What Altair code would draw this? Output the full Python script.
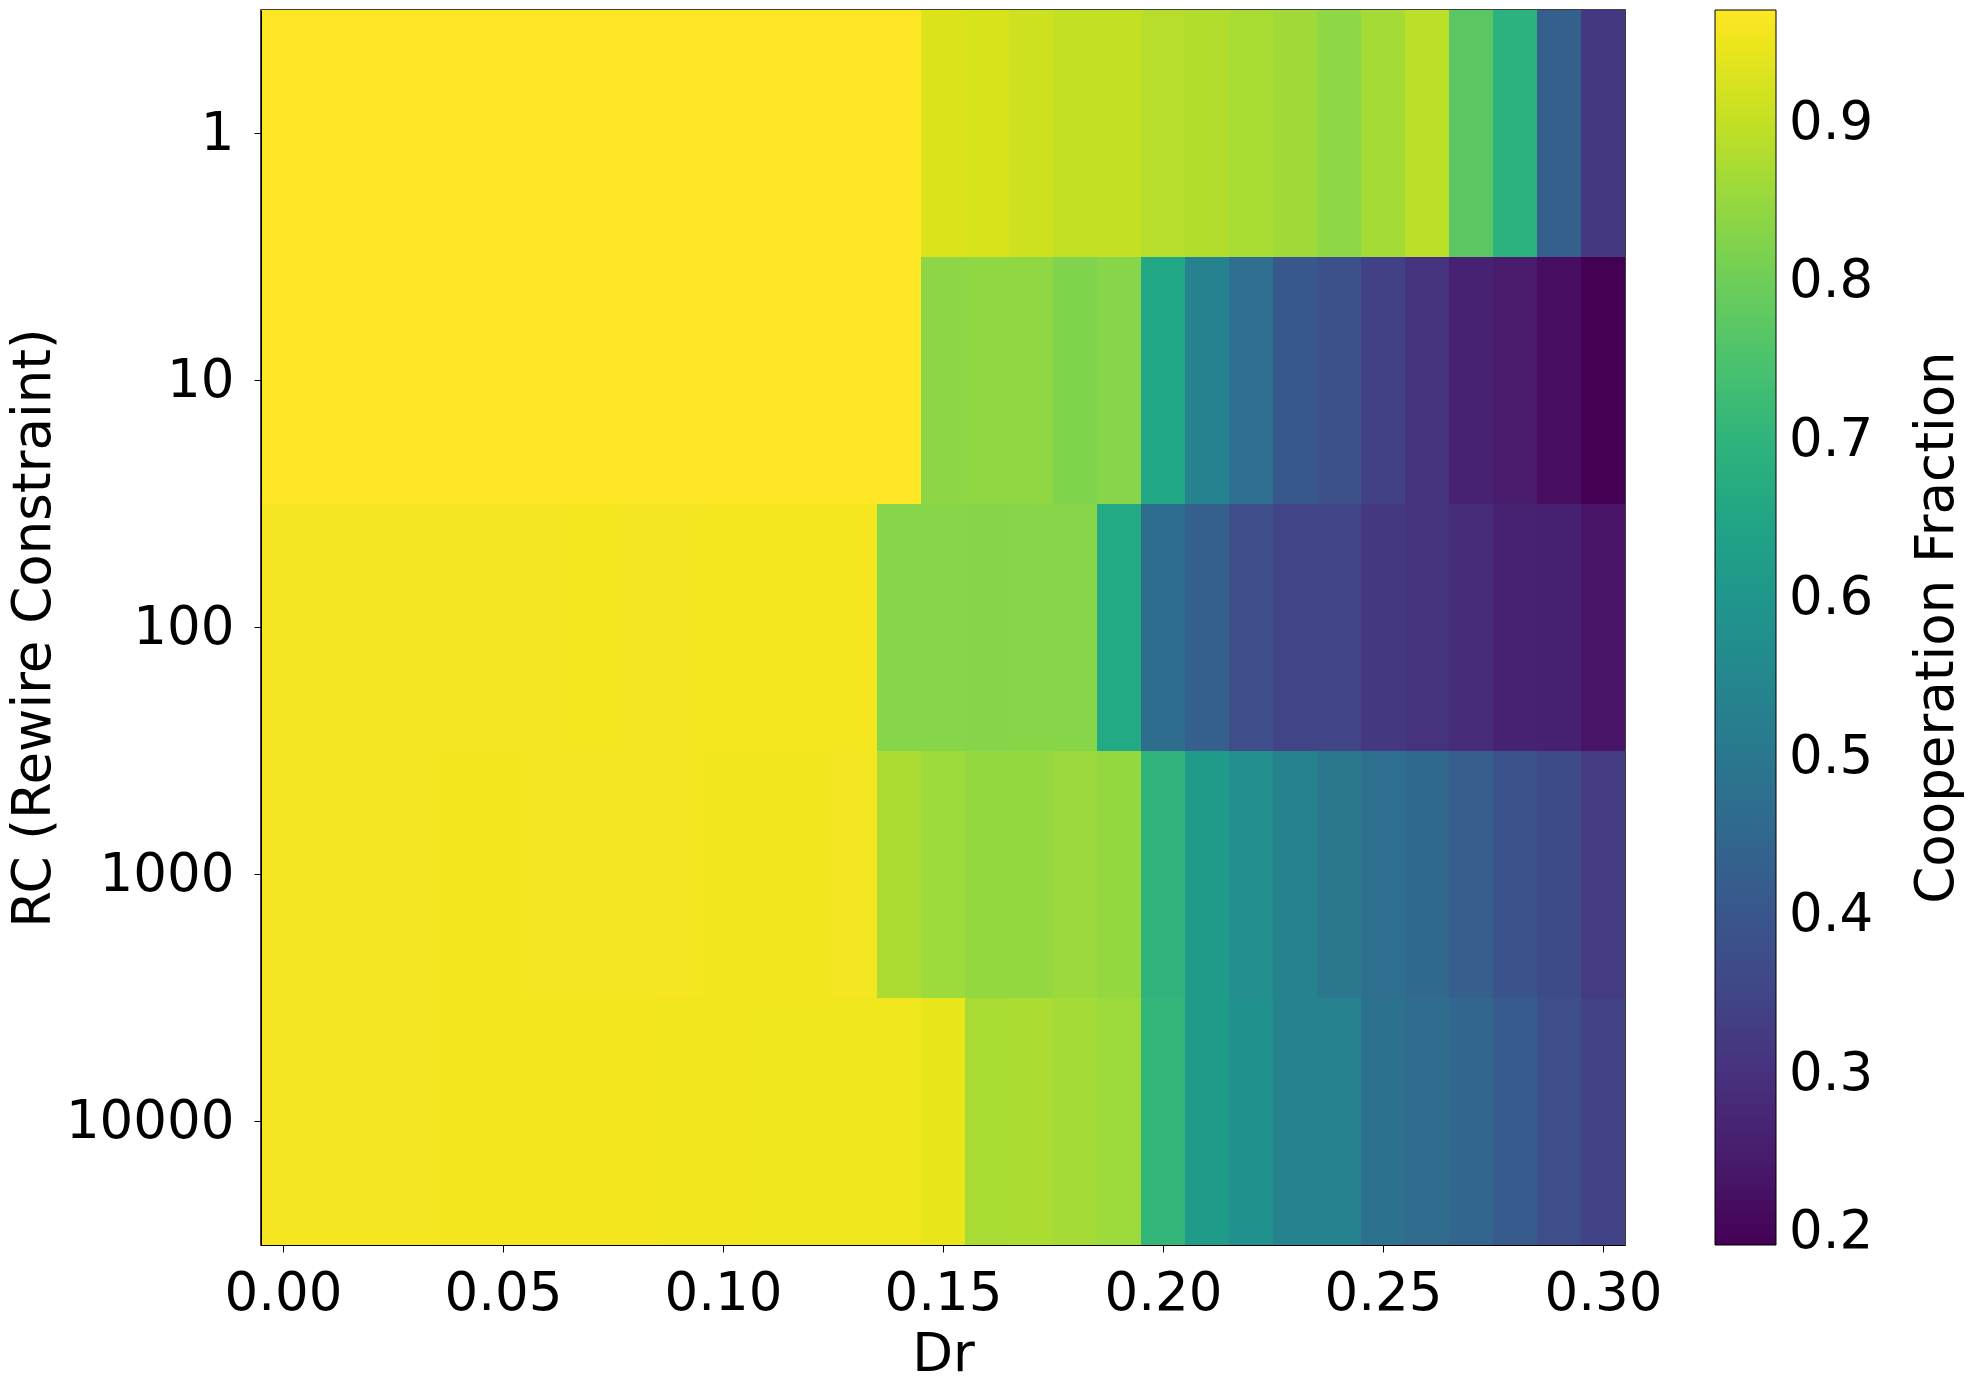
import altair as alt
import pandas as pd

dr_values = [round(i * 0.01, 2) for i in range(31)]
rc_labels = ["1", "10", "100", "1000", "10000"]

row_rc1 = [0.971] * 15 + [0.932, 0.926, 0.913, 0.902, 0.902, 0.886, 0.882, 0.872,
                          0.863, 0.840, 0.866, 0.893, 0.772, 0.691, 0.426, 0.318]
row_rc10 = [0.971] * 15 + [0.839, 0.842, 0.842, 0.823, 0.831, 0.659, 0.535, 0.472,
                           0.406, 0.379, 0.340, 0.305, 0.262, 0.247, 0.215, 0.192]
row_rc100 = [0.962, 0.962, 0.961, 0.961, 0.961, 0.961, 0.961, 0.960, 0.959, 0.959,
             0.960, 0.960, 0.960, 0.960,
             0.831, 0.831, 0.830, 0.831, 0.831, 0.663, 0.469, 0.426, 0.375, 0.348,
             0.348, 0.317, 0.305, 0.289, 0.262, 0.258, 0.231]
row_rc1000 = [0.961, 0.962, 0.962, 0.962, 0.958, 0.958, 0.961, 0.961, 0.961, 0.961,
              0.957, 0.957, 0.957, 0.959,
              0.875, 0.858, 0.846, 0.846, 0.856, 0.846, 0.702, 0.617, 0.574, 0.535,
              0.500, 0.472, 0.453, 0.422, 0.391, 0.367, 0.328]
row_rc10000 = [0.961, 0.961, 0.961, 0.961, 0.958, 0.958, 0.958, 0.958, 0.958, 0.955,
               0.955, 0.954, 0.954, 0.954, 0.953, 0.944,
               0.870, 0.874, 0.867, 0.858, 0.706, 0.617, 0.582, 0.535, 0.533,
               0.484, 0.465, 0.445, 0.414, 0.375, 0.344]

rows = [row_rc1, row_rc10, row_rc100, row_rc1000, row_rc10000]
records = []
for rc, row in zip(rc_labels, rows):
    for dr, v in zip(dr_values, row):
        records.append({"RC": rc, "Dr": dr, "coop": v})
df = pd.DataFrame(records)

vmin = float(df["coop"].min())
vmax = float(df["coop"].max())

FONT = "DejaVu Sans"
FS = 53
W, H = 1364, 1235

heat = alt.Chart(df).transform_calculate(
    x0="datum.Dr - 0.005", x1="datum.Dr + 0.005"
).mark_rect(strokeWidth=0).encode(
    x=alt.X("x0:Q",
            scale=alt.Scale(domain=[-0.005, 0.305], nice=False, zero=False),
            axis=alt.Axis(title="Dr", values=[0, 0.05, 0.10, 0.15, 0.20, 0.25, 0.30],
                          format=".2f", grid=False, tickSize=7, tickColor="black",
                          domainColor="black", labelFontSize=FS, titleFontSize=FS,
                          labelFont=FONT, titleFont=FONT, labelColor="black",
                          titleColor="black", titleFontWeight="normal",
                          labelPadding=15, titlePadding=8, labelFlush=False)),
    x2="x1:Q",
    y=alt.Y("RC:O", sort=rc_labels,
            scale=alt.Scale(paddingInner=0, paddingOuter=0),
            axis=alt.Axis(title="RC (Rewire Constraint)", tickSize=7, tickColor="black",
                          domainColor="black", labelFontSize=FS, titleFontSize=FS,
                          labelFont=FONT, titleFont=FONT, labelColor="black",
                          titleColor="black", titleFontWeight="normal",
                          labelPadding=20, titlePadding=5, labelAngle=0)),
    color=alt.Color("coop:Q",
                    scale=alt.Scale(scheme="viridis", domain=[vmin, vmax]),
                    legend=alt.Legend(type="gradient", orient="none",
                                      legendX=1454, legendY=0,
                                      direction="vertical", title=None,
                                      gradientLength=H, gradientThickness=61,
                                      values=[0.2, 0.3, 0.4, 0.5, 0.6, 0.7, 0.8, 0.9],
                                      format=".1f", labelFontSize=FS, labelFont=FONT,
                                      labelColor="black", labelOffset=13,
                                      gradientStrokeColor="black",
                                      gradientStrokeWidth=1)),
)

cbar_title = alt.Chart(pd.DataFrame({"t": ["Cooperation Fraction"]})).mark_text(
    angle=270, fontSize=FS, font=FONT, color="black", align="center", baseline="middle"
).encode(
    text="t:N",
    x=alt.value(1676),
    y=alt.value(H / 2),
)

chart = alt.layer(heat, cbar_title).properties(
    width=W, height=H,
    autosize=alt.AutoSizeParams(type="none"),
    padding={"left": 253, "top": 2, "right": 340, "bottom": 136},
).configure_view(stroke="black", strokeWidth=1.5)

chart.save("out.html", embed_options={"renderer": "svg", "actions": False})
